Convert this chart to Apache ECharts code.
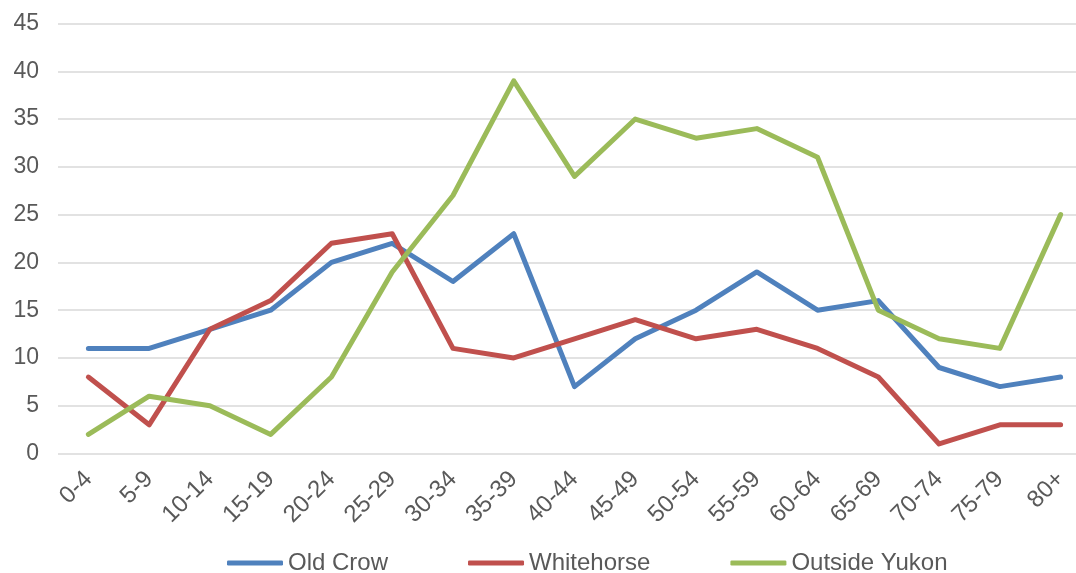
<!DOCTYPE html>
<html>
<head>
<meta charset="utf-8">
<script src="https://cdn.jsdelivr.net/npm/echarts@6/dist/echarts.min.js"></script>
<style>
  html, body { margin: 0; padding: 0; background: #ffffff; overflow: hidden; }
  #chart { width: 1091px; height: 573px; }
</style>
</head>
<body>
<div id="chart"></div>
<script>
// Age groups along the x axis
const ageGroups = ['0-4', '5-9', '10-14', '15-19', '20-24', '25-29', '30-34', '35-39',
  '40-44', '45-49', '50-54', '55-59', '60-64', '65-69', '70-74', '75-79', '80+'];

// Counts per age group for each place
const oldCrow = [11, 11, 13, 15, 20, 22, 18, 23, 7, 12, 15, 19, 15, 16, 9, 7, 8];
const whitehorse = [8, 3, 13, 16, 22, 23, 11, 10, 12, 14, 12, 13, 11, 8, 1, 3, 3];
const outsideYukon = [2, 6, 5, 2, 8, 19, 27, 39, 29, 35, 33, 34, 31, 15, 12, 11, 25];

const FONT = '"Liberation Sans", Arial, Helvetica, sans-serif';
const TEXT = '#595959';

function lineSeries(name, data, color) {
  return {
    name: name,
    type: 'line',
    data: data,
    symbol: 'none',
    smooth: false,
    color: color,
    lineStyle: { width: 5, color: color, join: 'round', cap: 'round' }
  };
}

const chart = echarts.init(document.getElementById('chart'), null, { renderer: 'canvas' });
chart.setOption({
  animation: false,
  backgroundColor: '#ffffff',
  grid: { left: 58, right: 0, top: 23.5, bottom: 119.5, containLabel: false },
  xAxis: {
    type: 'category',
    data: ageGroups,
    boundaryGap: true,
    axisLine: { show: false },
    axisTick: { show: false },
    axisLabel: {
      rotate: 45,
      margin: 22,
      interval: 0,
      color: TEXT,
      fontFamily: FONT,
      fontSize: 24
    },
    splitLine: { show: false }
  },
  yAxis: {
    type: 'value',
    min: 0,
    max: 45,
    interval: 5,
    axisLine: { show: false },
    axisTick: { show: false },
    axisLabel: {
      margin: 19,
      color: TEXT,
      fontFamily: FONT,
      fontSize: 23
    },
    splitLine: { lineStyle: { color: '#D9D9D9', width: 1.5 } }
  },
  legend: {
    top: 546,
    left: 222,
    itemWidth: 56,
    itemHeight: 5,
    itemGap: 80,
    icon: 'roundRect',
    textStyle: { color: TEXT, fontFamily: FONT, fontSize: 24 },
    data: ['Old Crow', 'Whitehorse', 'Outside Yukon']
  },
  series: [
    lineSeries('Old Crow', oldCrow, '#4F81BD'),
    lineSeries('Whitehorse', whitehorse, '#C0504D'),
    lineSeries('Outside Yukon', outsideYukon, '#9BBB59')
  ]
});
</script>
</body>
</html>
